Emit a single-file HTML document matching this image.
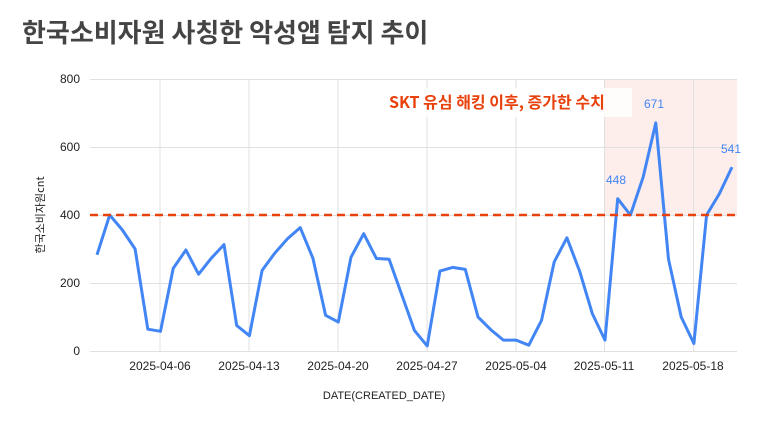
<!DOCTYPE html>
<html><head><meta charset="utf-8"><style>
body{margin:0;background:#fff;width:768px;height:426px;overflow:hidden;font-family:"Liberation Sans","Noto Sans CJK KR",sans-serif}
</style></head><body>
<svg id="s" width="768" height="426" xmlns="http://www.w3.org/2000/svg" font-family="Liberation Sans, Noto Sans CJK KR, sans-serif">
<text x="22" y="42" font-size="26" font-weight="bold" fill="#444" font-family="Noto Sans CJK KR, sans-serif">한국소비자원 사칭한 악성앱 탐지 추이</text>
<rect x="604" y="79" width="133" height="136" fill="#fdeeec"/>
<g stroke="#e0e0e0" stroke-width="1">
<line x1="90" y1="79.5" x2="737" y2="79.5"/>
<line x1="90" y1="147.5" x2="737" y2="147.5"/>
<line x1="90" y1="215.5" x2="737" y2="215.5"/>
<line x1="90" y1="283.5" x2="737" y2="283.5"/>
<line x1="90" y1="351.5" x2="737" y2="351.5"/>
<line x1="160" y1="79" x2="160" y2="351"/>
<line x1="249" y1="79" x2="249" y2="351"/>
<line x1="338" y1="79" x2="338" y2="351"/>
<line x1="427" y1="79" x2="427" y2="351"/>
<line x1="516" y1="79" x2="516" y2="351"/>
<line x1="604.5" y1="79" x2="604.5" y2="351"/>
<line x1="693.5" y1="79" x2="693.5" y2="351"/>
</g>
<g font-size="12" fill="#222" text-anchor="end">
<text x="80" y="83">800</text><text x="80" y="151">600</text><text x="80" y="219">400</text><text x="80" y="287">200</text><text x="80" y="355">0</text>
</g>
<g font-size="12" fill="#222" text-anchor="middle">
<text x="160" y="370">2025-04-06</text><text x="249" y="370">2025-04-13</text><text x="338" y="370">2025-04-20</text><text x="427" y="370">2025-04-27</text><text x="516" y="370">2025-05-04</text><text x="604" y="370">2025-05-11</text><text x="693" y="370">2025-05-18</text>
<text x="384" y="399" font-size="11">DATE(CREATED_DATE)</text>
</g>
<text transform="translate(44,215) rotate(-90)" font-size="11" fill="#222" text-anchor="middle" font-family="Noto Sans CJK KR, sans-serif">한국소비자원cnt</text>
<rect x="385" y="88" width="247" height="29" fill="#fff" opacity="0.85"/>
<text x="389" y="108" font-size="16" font-weight="bold" fill="#e8410c" font-family="Noto Sans CJK KR, sans-serif">SKT 유심 해킹 이후, 증가한 수치</text>
<polyline id="p" fill="none" stroke="#4285f4" stroke-width="3" stroke-linejoin="round"/>
<line x1="90" y1="215" x2="737" y2="215" stroke="#e8410c" stroke-width="2.5" stroke-dasharray="8,5"/>
<g font-size="12" fill="#4285f4" text-anchor="middle">
<text x="616" y="184">448</text><text x="654" y="108">671</text><text x="731" y="153">541</text>
</g>
</svg>
<script>
var v=[283,400,356,300,64,58,243,297,226,273,313,75,45,237,288,330,363,273,105,85,276,345,272,270,165,60,15,235,246,240,100,63,32,32,17,90,262,333,235,110,32,448,400,511,671,270,100,22,400,462,541];
var pts=v.map(function(y,i){return (97+i*12.7).toFixed(1)+","+(351-y*0.34).toFixed(1)}).join(" ");
document.getElementById("p").setAttribute("points",pts);
</script>
</body></html>
